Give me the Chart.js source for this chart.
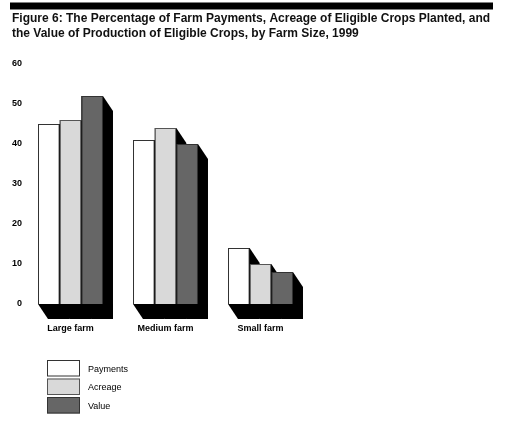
<!DOCTYPE html>
<html>
<head>
<meta charset="utf-8">
<script src="https://cdn.jsdelivr.net/npm/chart.js@4"></script>
<style>
  html, body { margin: 0; padding: 0; background: #fff; }
  #wrap { width: 505px; height: 421px; }
</style>
</head>
<body>
<div id="wrap"><canvas id="c" width="505" height="421"></canvas></div>
<script>
const categories = ['Large farm', 'Medium farm', 'Small farm'];
const seriesNames = ['Payments', 'Acreage', 'Value'];
const payments = [45, 41, 14];
const acreage = [46, 44, 10];
const valueProd = [52, 40, 8];
const yTicks = [0, 10, 20, 30, 40, 50, 60];
const titleLines = [
  'Figure 6: The Percentage of Farm Payments, Acreage of Eligible Crops Planted, and',
  'the Value of Production of Eligible Crops, by Farm Size, 1999'
];

const FONT = '"Liberation Sans", Arial, Helvetica, sans-serif';
const fills = ['#ffffff', '#d9d9d9', '#666666'];
const borders = ['#333333', '#555555', '#333333'];
const DX = 10, DY = 15;

const titleBlock = {
  id: 'titleBlock',
  beforeDraw(chart) {
    const ctx = chart.ctx;
    ctx.save();
    ctx.fillStyle = '#000';
    ctx.fillRect(10, 2.5, 483, 7);
    ctx.fillStyle = '#111';
    ctx.font = 'bold 12px ' + FONT;
    ctx.textAlign = 'left';
    ctx.textBaseline = 'alphabetic';
    ctx.fillText(titleLines[0], 12, 22);
    ctx.fillText(titleLines[1], 12, 36.7);
    ctx.restore();
  }
};

const shadow3d = {
  id: 'shadow3d',
  beforeDatasetsDraw(chart) {
    const ctx = chart.ctx;
    ctx.save();
    ctx.fillStyle = '#000';
    chart.data.datasets.forEach((ds, i) => {
      const meta = chart.getDatasetMeta(i);
      meta.data.forEach(el => {
        const p = el.getProps(['x', 'y', 'base', 'width'], true);
        const x1 = p.x - p.width / 2, x2 = p.x + p.width / 2;
        const top = p.y, bot = p.base;
        ctx.beginPath();
        ctx.moveTo(x1, top);
        ctx.lineTo(x2, top);
        ctx.lineTo(x2 + DX, top + DY);
        ctx.lineTo(x2 + DX, bot + DY);
        ctx.lineTo(x1 + DX, bot + DY);
        ctx.lineTo(x1, bot);
        ctx.closePath();
        ctx.fill();
      });
    });
    ctx.restore();
  }
};

const boxLegend = {
  id: 'boxLegend',
  afterDraw(chart) {
    const ctx = chart.ctx;
    ctx.save();
    const ys = [360, 378.5, 397];
    chart.data.datasets.forEach((ds, i) => {
      const y = ys[i];
      ctx.fillStyle = ds.backgroundColor;
      ctx.fillRect(47, y, 33, 16.5);
      ctx.strokeStyle = ds.borderColor;
      ctx.lineWidth = 1;
      ctx.strokeRect(47.5, y + 0.5, 32, 15.5);
      ctx.fillStyle = '#000';
      ctx.font = '9px ' + FONT;
      ctx.textBaseline = 'middle';
      ctx.textAlign = 'left';
      ctx.fillText(ds.label, 88, y + 9.5);
    });
    ctx.restore();
  }
};

const data = {
  labels: categories,
  datasets: [payments, acreage, valueProd].map((vals, i) => ({
    label: seriesNames[i],
    data: vals,
    backgroundColor: fills[i],
    borderColor: borders[i],
    borderWidth: 1,
    categoryPercentage: 0.684,
    barPercentage: 1.0
  }))
};

new Chart(document.getElementById('c'), {
  type: 'bar',
  data,
  plugins: [titleBlock, shadow3d, boxLegend],
  options: {
    responsive: false,
    animation: false,
    layout: { padding: { top: 64, left: 12, right: 197, bottom: 0 } },
    plugins: {
      legend: { display: false },
      tooltip: { enabled: false },
      title: { display: false }
    },
    scales: {
      x: {
        grid: { display: false, drawTicks: false },
        border: { display: false },
        ticks: { color: '#000', padding: 19, font: { family: FONT, size: 9, weight: 'bold' } },
        afterFit(scale) { scale.height = 117; }
      },
      y: {
        min: 0, max: 60,
        grid: { display: false, drawTicks: false },
        border: { display: false },
        afterBuildTicks(scale) { scale.ticks = yTicks.map(v => ({ value: v })); },
        ticks: { color: '#000', padding: 1, font: { family: FONT, size: 9, weight: 'bold' } },
        afterFit(scale) { scale.width = 11; }
      }
    }
  }
});
</script>
</body>
</html>
